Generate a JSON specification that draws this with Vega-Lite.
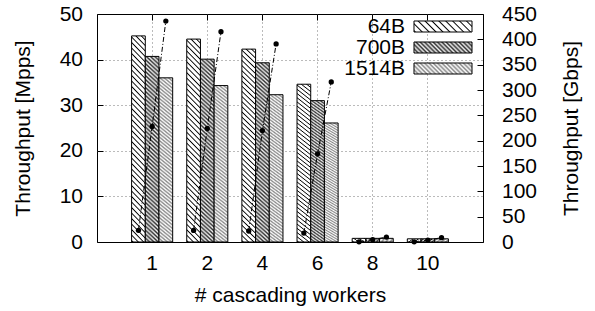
{
  "$schema": "https://vega.github.io/schema/vega-lite/v6.json",
  "width": 386,
  "height": 228,
  "autosize": {"type": "none"},
  "padding": {"left": 97, "top": 14, "right": 112, "bottom": 69},
  "config": {
    "font": "Liberation Sans",
    "view": {"stroke": "black", "strokeWidth": 1},
    "axis": {
      "labelFont": "Liberation Sans", "labelFontSize": 21, "labelColor": "black",
      "titleFont": "Liberation Sans", "titleFontSize": 21, "titleFontWeight": "normal", "titleColor": "black",
      "domain": false, "tickColor": "black", "gridColor": "#777", "gridDash": [1, 3]
    },
    "legend": {
      "orient": "none", "legendX": 335.5, "title": null, "padding": 0,
      "labelAlign": "right", "labelOffset": -48.5,
      "symbolSize": 134.6, "symbolStrokeColor": "black", "symbolStrokeWidth": 1, "symbolOpacity": 1,
      "labelFont": "Liberation Sans", "labelFontSize": 21, "labelColor": "black"
    }
  },
  "data": {
    "values": [
      {"workers": "1", "size": "64B", "sizeBytes": 64, "mpps": 45.2, "gbps": 23.1},
      {"workers": "1", "size": "700B", "sizeBytes": 700, "mpps": 40.7, "gbps": 228},
      {"workers": "1", "size": "1514B", "sizeBytes": 1514, "mpps": 36.0, "gbps": 436},
      {"workers": "2", "size": "64B", "sizeBytes": 64, "mpps": 44.5, "gbps": 22.8},
      {"workers": "2", "size": "700B", "sizeBytes": 700, "mpps": 40.1, "gbps": 224},
      {"workers": "2", "size": "1514B", "sizeBytes": 1514, "mpps": 34.3, "gbps": 415},
      {"workers": "4", "size": "64B", "sizeBytes": 64, "mpps": 42.3, "gbps": 21.7},
      {"workers": "4", "size": "700B", "sizeBytes": 700, "mpps": 39.3, "gbps": 220},
      {"workers": "4", "size": "1514B", "sizeBytes": 1514, "mpps": 32.3, "gbps": 391},
      {"workers": "6", "size": "64B", "sizeBytes": 64, "mpps": 34.6, "gbps": 17.7},
      {"workers": "6", "size": "700B", "sizeBytes": 700, "mpps": 31.0, "gbps": 174},
      {"workers": "6", "size": "1514B", "sizeBytes": 1514, "mpps": 26.1, "gbps": 316},
      {"workers": "8", "size": "64B", "sizeBytes": 64, "mpps": 0.8, "gbps": 0.4},
      {"workers": "8", "size": "700B", "sizeBytes": 700, "mpps": 0.8, "gbps": 4.5},
      {"workers": "8", "size": "1514B", "sizeBytes": 1514, "mpps": 0.8, "gbps": 9.7},
      {"workers": "10", "size": "64B", "sizeBytes": 64, "mpps": 0.7, "gbps": 0.4},
      {"workers": "10", "size": "700B", "sizeBytes": 700, "mpps": 0.7, "gbps": 3.9},
      {"workers": "10", "size": "1514B", "sizeBytes": 1514, "mpps": 0.7, "gbps": 8.5}
    ]
  },
  "encoding": {
    "x": {
      "field": "workers", "type": "ordinal",
      "scale": {"domain": ["1", "2", "4", "6", "8", "10"], "paddingInner": 0.255, "paddingOuter": 0.6275},
      "axis": {"title": "# cascading workers", "labelAngle": 0, "ticks": false, "grid": true, "labelPadding": 10, "titlePadding": 11}
    },
    "xOffset": {
      "field": "size", "type": "nominal",
      "scale": {"domain": ["64B", "700B", "1514B"], "paddingInner": 0, "paddingOuter": 0}
    }
  },
  "layer": [
    {
      "encoding": {
        "y": {
          "field": "mpps", "type": "quantitative",
          "scale": {"domain": [0, 50]},
          "axis": {
            "orient": "left", "title": "Throughput [Mpps]", "values": [0, 10, 20, 30, 40, 50],
            "grid": true,
            "gridOpacity": {"condition": {"test": "datum.value === 0 || datum.value === 50", "value": 0}, "value": 1},
            "tickSize": -6, "labelPadding": 20.5, "titlePadding": 26
          }
        }
      },
      "layer": [
        {
          "transform": [{"filter": "datum.size === '64B'"}],
          "mark": {"type": "bar", "stroke": "black", "strokeWidth": 1,
            "fill": {"gradient": "linear", "x1": 1, "y1": 0, "x2": 0.9273, "y2": 1.063, "stops": [
              {"offset": 0, "color": "#fff"}, {"offset": 0.013, "color": "#fff"}, {"offset": 0.019, "color": "#000"},
              {"offset": 0.025, "color": "#fff"}, {"offset": 0.038, "color": "#fff"}, {"offset": 0.044, "color": "#000"},
              {"offset": 0.05, "color": "#fff"}, {"offset": 0.063, "color": "#fff"}, {"offset": 0.069, "color": "#000"},
              {"offset": 0.075, "color": "#fff"}, {"offset": 0.088, "color": "#fff"}, {"offset": 0.094, "color": "#000"},
              {"offset": 0.1, "color": "#fff"}, {"offset": 0.113, "color": "#fff"}, {"offset": 0.119, "color": "#000"},
              {"offset": 0.125, "color": "#fff"}, {"offset": 0.138, "color": "#fff"}, {"offset": 0.144, "color": "#000"},
              {"offset": 0.15, "color": "#fff"}, {"offset": 0.163, "color": "#fff"}, {"offset": 0.169, "color": "#000"},
              {"offset": 0.175, "color": "#fff"}, {"offset": 0.188, "color": "#fff"}, {"offset": 0.194, "color": "#000"},
              {"offset": 0.2, "color": "#fff"}, {"offset": 0.213, "color": "#fff"}, {"offset": 0.219, "color": "#000"},
              {"offset": 0.225, "color": "#fff"}, {"offset": 0.238, "color": "#fff"}, {"offset": 0.244, "color": "#000"},
              {"offset": 0.25, "color": "#fff"}, {"offset": 0.263, "color": "#fff"}, {"offset": 0.269, "color": "#000"},
              {"offset": 0.275, "color": "#fff"}, {"offset": 0.288, "color": "#fff"}, {"offset": 0.294, "color": "#000"},
              {"offset": 0.3, "color": "#fff"}, {"offset": 0.313, "color": "#fff"}, {"offset": 0.319, "color": "#000"},
              {"offset": 0.325, "color": "#fff"}, {"offset": 0.338, "color": "#fff"}, {"offset": 0.344, "color": "#000"},
              {"offset": 0.35, "color": "#fff"}, {"offset": 0.363, "color": "#fff"}, {"offset": 0.369, "color": "#000"},
              {"offset": 0.375, "color": "#fff"}, {"offset": 0.388, "color": "#fff"}, {"offset": 0.394, "color": "#000"},
              {"offset": 0.4, "color": "#fff"}, {"offset": 0.413, "color": "#fff"}, {"offset": 0.419, "color": "#000"},
              {"offset": 0.425, "color": "#fff"}, {"offset": 0.438, "color": "#fff"}, {"offset": 0.444, "color": "#000"},
              {"offset": 0.45, "color": "#fff"}, {"offset": 0.463, "color": "#fff"}, {"offset": 0.469, "color": "#000"},
              {"offset": 0.475, "color": "#fff"}, {"offset": 0.488, "color": "#fff"}, {"offset": 0.494, "color": "#000"},
              {"offset": 0.5, "color": "#fff"}, {"offset": 0.513, "color": "#fff"}, {"offset": 0.519, "color": "#000"},
              {"offset": 0.525, "color": "#fff"}, {"offset": 0.538, "color": "#fff"}, {"offset": 0.544, "color": "#000"},
              {"offset": 0.55, "color": "#fff"}, {"offset": 0.563, "color": "#fff"}, {"offset": 0.569, "color": "#000"},
              {"offset": 0.575, "color": "#fff"}, {"offset": 0.588, "color": "#fff"}, {"offset": 0.594, "color": "#000"},
              {"offset": 0.6, "color": "#fff"}, {"offset": 0.613, "color": "#fff"}, {"offset": 0.619, "color": "#000"},
              {"offset": 0.625, "color": "#fff"}, {"offset": 0.638, "color": "#fff"}, {"offset": 0.644, "color": "#000"},
              {"offset": 0.65, "color": "#fff"}, {"offset": 0.663, "color": "#fff"}, {"offset": 0.669, "color": "#000"},
              {"offset": 0.675, "color": "#fff"}, {"offset": 0.688, "color": "#fff"}, {"offset": 0.694, "color": "#000"},
              {"offset": 0.7, "color": "#fff"}, {"offset": 0.713, "color": "#fff"}, {"offset": 0.719, "color": "#000"},
              {"offset": 0.725, "color": "#fff"}, {"offset": 0.738, "color": "#fff"}, {"offset": 0.744, "color": "#000"},
              {"offset": 0.75, "color": "#fff"}, {"offset": 0.763, "color": "#fff"}, {"offset": 0.769, "color": "#000"},
              {"offset": 0.775, "color": "#fff"}, {"offset": 0.788, "color": "#fff"}, {"offset": 0.794, "color": "#000"},
              {"offset": 0.8, "color": "#fff"}, {"offset": 0.813, "color": "#fff"}, {"offset": 0.819, "color": "#000"},
              {"offset": 0.825, "color": "#fff"}, {"offset": 0.838, "color": "#fff"}, {"offset": 0.844, "color": "#000"},
              {"offset": 0.85, "color": "#fff"}, {"offset": 0.863, "color": "#fff"}, {"offset": 0.869, "color": "#000"},
              {"offset": 0.875, "color": "#fff"}, {"offset": 0.888, "color": "#fff"}, {"offset": 0.894, "color": "#000"},
              {"offset": 0.9, "color": "#fff"}, {"offset": 0.913, "color": "#fff"}, {"offset": 0.919, "color": "#000"},
              {"offset": 0.925, "color": "#fff"}, {"offset": 0.938, "color": "#fff"}, {"offset": 0.944, "color": "#000"},
              {"offset": 0.95, "color": "#fff"}, {"offset": 0.963, "color": "#fff"}, {"offset": 0.969, "color": "#000"},
              {"offset": 0.975, "color": "#fff"}, {"offset": 0.988, "color": "#fff"}, {"offset": 0.994, "color": "#000"},
              {"offset": 1, "color": "#fff"}
            ]}
          }
        },
        {
          "transform": [{"filter": "datum.size === '700B'"}],
          "mark": {"type": "bar", "stroke": "black", "strokeWidth": 1,
            "fill": {"gradient": "linear", "x1": 1, "y1": 0, "x2": 0.9273, "y2": 1.063, "stops": [
              {"offset": 0, "color": "#333"}, {"offset": 0.01, "color": "#eee"}, {"offset": 0.02, "color": "#333"}, {"offset": 0.03, "color": "#eee"},
              {"offset": 0.04, "color": "#333"}, {"offset": 0.05, "color": "#eee"}, {"offset": 0.06, "color": "#333"}, {"offset": 0.07, "color": "#eee"},
              {"offset": 0.08, "color": "#333"}, {"offset": 0.09, "color": "#eee"}, {"offset": 0.1, "color": "#333"}, {"offset": 0.11, "color": "#eee"},
              {"offset": 0.12, "color": "#333"}, {"offset": 0.13, "color": "#eee"}, {"offset": 0.14, "color": "#333"}, {"offset": 0.15, "color": "#eee"},
              {"offset": 0.16, "color": "#333"}, {"offset": 0.17, "color": "#eee"}, {"offset": 0.18, "color": "#333"}, {"offset": 0.19, "color": "#eee"},
              {"offset": 0.2, "color": "#333"}, {"offset": 0.21, "color": "#eee"}, {"offset": 0.22, "color": "#333"}, {"offset": 0.23, "color": "#eee"},
              {"offset": 0.24, "color": "#333"}, {"offset": 0.25, "color": "#eee"}, {"offset": 0.26, "color": "#333"}, {"offset": 0.27, "color": "#eee"},
              {"offset": 0.28, "color": "#333"}, {"offset": 0.29, "color": "#eee"}, {"offset": 0.3, "color": "#333"}, {"offset": 0.31, "color": "#eee"},
              {"offset": 0.32, "color": "#333"}, {"offset": 0.33, "color": "#eee"}, {"offset": 0.34, "color": "#333"}, {"offset": 0.35, "color": "#eee"},
              {"offset": 0.36, "color": "#333"}, {"offset": 0.37, "color": "#eee"}, {"offset": 0.38, "color": "#333"}, {"offset": 0.39, "color": "#eee"},
              {"offset": 0.4, "color": "#333"}, {"offset": 0.41, "color": "#eee"}, {"offset": 0.42, "color": "#333"}, {"offset": 0.43, "color": "#eee"},
              {"offset": 0.44, "color": "#333"}, {"offset": 0.45, "color": "#eee"}, {"offset": 0.46, "color": "#333"}, {"offset": 0.47, "color": "#eee"},
              {"offset": 0.48, "color": "#333"}, {"offset": 0.49, "color": "#eee"}, {"offset": 0.5, "color": "#333"}, {"offset": 0.51, "color": "#eee"},
              {"offset": 0.52, "color": "#333"}, {"offset": 0.53, "color": "#eee"}, {"offset": 0.54, "color": "#333"}, {"offset": 0.55, "color": "#eee"},
              {"offset": 0.56, "color": "#333"}, {"offset": 0.57, "color": "#eee"}, {"offset": 0.58, "color": "#333"}, {"offset": 0.59, "color": "#eee"},
              {"offset": 0.6, "color": "#333"}, {"offset": 0.61, "color": "#eee"}, {"offset": 0.62, "color": "#333"}, {"offset": 0.63, "color": "#eee"},
              {"offset": 0.64, "color": "#333"}, {"offset": 0.65, "color": "#eee"}, {"offset": 0.66, "color": "#333"}, {"offset": 0.67, "color": "#eee"},
              {"offset": 0.68, "color": "#333"}, {"offset": 0.69, "color": "#eee"}, {"offset": 0.7, "color": "#333"}, {"offset": 0.71, "color": "#eee"},
              {"offset": 0.72, "color": "#333"}, {"offset": 0.73, "color": "#eee"}, {"offset": 0.74, "color": "#333"}, {"offset": 0.75, "color": "#eee"},
              {"offset": 0.76, "color": "#333"}, {"offset": 0.77, "color": "#eee"}, {"offset": 0.78, "color": "#333"}, {"offset": 0.79, "color": "#eee"},
              {"offset": 0.8, "color": "#333"}, {"offset": 0.81, "color": "#eee"}, {"offset": 0.82, "color": "#333"}, {"offset": 0.83, "color": "#eee"},
              {"offset": 0.84, "color": "#333"}, {"offset": 0.85, "color": "#eee"}, {"offset": 0.86, "color": "#333"}, {"offset": 0.87, "color": "#eee"},
              {"offset": 0.88, "color": "#333"}, {"offset": 0.89, "color": "#eee"}, {"offset": 0.9, "color": "#333"}, {"offset": 0.91, "color": "#eee"},
              {"offset": 0.92, "color": "#333"}, {"offset": 0.93, "color": "#eee"}, {"offset": 0.94, "color": "#333"}, {"offset": 0.95, "color": "#eee"},
              {"offset": 0.96, "color": "#333"}, {"offset": 0.97, "color": "#eee"}, {"offset": 0.98, "color": "#333"}, {"offset": 0.99, "color": "#eee"},
              {"offset": 1, "color": "#333"}
            ]}
          }
        },
        {
          "transform": [{"filter": "datum.size === '1514B'"}],
          "mark": {"type": "bar", "stroke": "black", "strokeWidth": 1,
            "fill": {"gradient": "linear", "x1": 1, "y1": 0, "x2": 0.9273, "y2": 1.063, "stops": [
              {"offset": 0, "color": "#888"}, {"offset": 0.01, "color": "#fff"}, {"offset": 0.02, "color": "#888"}, {"offset": 0.03, "color": "#fff"},
              {"offset": 0.04, "color": "#888"}, {"offset": 0.05, "color": "#fff"}, {"offset": 0.06, "color": "#888"}, {"offset": 0.07, "color": "#fff"},
              {"offset": 0.08, "color": "#888"}, {"offset": 0.09, "color": "#fff"}, {"offset": 0.1, "color": "#888"}, {"offset": 0.11, "color": "#fff"},
              {"offset": 0.12, "color": "#888"}, {"offset": 0.13, "color": "#fff"}, {"offset": 0.14, "color": "#888"}, {"offset": 0.15, "color": "#fff"},
              {"offset": 0.16, "color": "#888"}, {"offset": 0.17, "color": "#fff"}, {"offset": 0.18, "color": "#888"}, {"offset": 0.19, "color": "#fff"},
              {"offset": 0.2, "color": "#888"}, {"offset": 0.21, "color": "#fff"}, {"offset": 0.22, "color": "#888"}, {"offset": 0.23, "color": "#fff"},
              {"offset": 0.24, "color": "#888"}, {"offset": 0.25, "color": "#fff"}, {"offset": 0.26, "color": "#888"}, {"offset": 0.27, "color": "#fff"},
              {"offset": 0.28, "color": "#888"}, {"offset": 0.29, "color": "#fff"}, {"offset": 0.3, "color": "#888"}, {"offset": 0.31, "color": "#fff"},
              {"offset": 0.32, "color": "#888"}, {"offset": 0.33, "color": "#fff"}, {"offset": 0.34, "color": "#888"}, {"offset": 0.35, "color": "#fff"},
              {"offset": 0.36, "color": "#888"}, {"offset": 0.37, "color": "#fff"}, {"offset": 0.38, "color": "#888"}, {"offset": 0.39, "color": "#fff"},
              {"offset": 0.4, "color": "#888"}, {"offset": 0.41, "color": "#fff"}, {"offset": 0.42, "color": "#888"}, {"offset": 0.43, "color": "#fff"},
              {"offset": 0.44, "color": "#888"}, {"offset": 0.45, "color": "#fff"}, {"offset": 0.46, "color": "#888"}, {"offset": 0.47, "color": "#fff"},
              {"offset": 0.48, "color": "#888"}, {"offset": 0.49, "color": "#fff"}, {"offset": 0.5, "color": "#888"}, {"offset": 0.51, "color": "#fff"},
              {"offset": 0.52, "color": "#888"}, {"offset": 0.53, "color": "#fff"}, {"offset": 0.54, "color": "#888"}, {"offset": 0.55, "color": "#fff"},
              {"offset": 0.56, "color": "#888"}, {"offset": 0.57, "color": "#fff"}, {"offset": 0.58, "color": "#888"}, {"offset": 0.59, "color": "#fff"},
              {"offset": 0.6, "color": "#888"}, {"offset": 0.61, "color": "#fff"}, {"offset": 0.62, "color": "#888"}, {"offset": 0.63, "color": "#fff"},
              {"offset": 0.64, "color": "#888"}, {"offset": 0.65, "color": "#fff"}, {"offset": 0.66, "color": "#888"}, {"offset": 0.67, "color": "#fff"},
              {"offset": 0.68, "color": "#888"}, {"offset": 0.69, "color": "#fff"}, {"offset": 0.7, "color": "#888"}, {"offset": 0.71, "color": "#fff"},
              {"offset": 0.72, "color": "#888"}, {"offset": 0.73, "color": "#fff"}, {"offset": 0.74, "color": "#888"}, {"offset": 0.75, "color": "#fff"},
              {"offset": 0.76, "color": "#888"}, {"offset": 0.77, "color": "#fff"}, {"offset": 0.78, "color": "#888"}, {"offset": 0.79, "color": "#fff"},
              {"offset": 0.8, "color": "#888"}, {"offset": 0.81, "color": "#fff"}, {"offset": 0.82, "color": "#888"}, {"offset": 0.83, "color": "#fff"},
              {"offset": 0.84, "color": "#888"}, {"offset": 0.85, "color": "#fff"}, {"offset": 0.86, "color": "#888"}, {"offset": 0.87, "color": "#fff"},
              {"offset": 0.88, "color": "#888"}, {"offset": 0.89, "color": "#fff"}, {"offset": 0.9, "color": "#888"}, {"offset": 0.91, "color": "#fff"},
              {"offset": 0.92, "color": "#888"}, {"offset": 0.93, "color": "#fff"}, {"offset": 0.94, "color": "#888"}, {"offset": 0.95, "color": "#fff"},
              {"offset": 0.96, "color": "#888"}, {"offset": 0.97, "color": "#fff"}, {"offset": 0.98, "color": "#888"}, {"offset": 0.99, "color": "#fff"},
              {"offset": 1, "color": "#888"}
            ]}
          }
        },
        {
          "transform": [{"filter": "datum.size === '64B'"}],
          "mark": {"type": "point", "filled": true, "opacity": 0, "stroke": "black", "strokeWidth": 1,
            "fill": {"gradient": "linear", "x1": 1, "y1": 0, "x2": -0.149, "y2": 0.218, "stops": [
              {"offset": 0, "color": "#fff"}, {"offset": 0.06, "color": "#fff"}, {"offset": 0.08, "color": "#000"},
              {"offset": 0.1, "color": "#fff"}, {"offset": 0.16, "color": "#fff"}, {"offset": 0.18, "color": "#000"},
              {"offset": 0.2, "color": "#fff"}, {"offset": 0.26, "color": "#fff"}, {"offset": 0.28, "color": "#000"},
              {"offset": 0.3, "color": "#fff"}, {"offset": 0.36, "color": "#fff"}, {"offset": 0.38, "color": "#000"},
              {"offset": 0.4, "color": "#fff"}, {"offset": 0.46, "color": "#fff"}, {"offset": 0.48, "color": "#000"},
              {"offset": 0.5, "color": "#fff"}, {"offset": 0.56, "color": "#fff"}, {"offset": 0.58, "color": "#000"},
              {"offset": 0.6, "color": "#fff"}, {"offset": 0.66, "color": "#fff"}, {"offset": 0.68, "color": "#000"},
              {"offset": 0.7, "color": "#fff"}, {"offset": 0.76, "color": "#fff"}, {"offset": 0.78, "color": "#000"},
              {"offset": 0.8, "color": "#fff"}, {"offset": 0.86, "color": "#fff"}, {"offset": 0.88, "color": "#000"},
              {"offset": 0.9, "color": "#fff"}, {"offset": 0.96, "color": "#fff"}, {"offset": 0.98, "color": "#000"},
              {"offset": 1, "color": "#fff"}
            ]}
          },
          "encoding": {
            "shape": {"field": "size", "type": "nominal",
              "scale": {"domain": ["64B"], "range": ["M-5,-0.95H5V0.95H-5Z"]},
              "legend": {"legendY": 2, "encoding": {"symbols": {"stroke": {"value": "black"}, "strokeWidth": {"value": 1}}}}}
          }
        },
        {
          "transform": [{"filter": "datum.size === '700B'"}],
          "mark": {"type": "point", "filled": true, "opacity": 0, "stroke": "black", "strokeWidth": 1,
            "fill": {"gradient": "linear", "x1": 1, "y1": 0, "x2": -0.149, "y2": 0.218, "stops": [
              {"offset": 0, "color": "#333"}, {"offset": 0.03125, "color": "#eee"}, {"offset": 0.0625, "color": "#333"}, {"offset": 0.09375, "color": "#eee"},
              {"offset": 0.125, "color": "#333"}, {"offset": 0.15625, "color": "#eee"}, {"offset": 0.1875, "color": "#333"}, {"offset": 0.21875, "color": "#eee"},
              {"offset": 0.25, "color": "#333"}, {"offset": 0.28125, "color": "#eee"}, {"offset": 0.3125, "color": "#333"}, {"offset": 0.34375, "color": "#eee"},
              {"offset": 0.375, "color": "#333"}, {"offset": 0.40625, "color": "#eee"}, {"offset": 0.4375, "color": "#333"}, {"offset": 0.46875, "color": "#eee"},
              {"offset": 0.5, "color": "#333"}, {"offset": 0.53125, "color": "#eee"}, {"offset": 0.5625, "color": "#333"}, {"offset": 0.59375, "color": "#eee"},
              {"offset": 0.625, "color": "#333"}, {"offset": 0.65625, "color": "#eee"}, {"offset": 0.6875, "color": "#333"}, {"offset": 0.71875, "color": "#eee"},
              {"offset": 0.75, "color": "#333"}, {"offset": 0.78125, "color": "#eee"}, {"offset": 0.8125, "color": "#333"}, {"offset": 0.84375, "color": "#eee"},
              {"offset": 0.875, "color": "#333"}, {"offset": 0.90625, "color": "#eee"}, {"offset": 0.9375, "color": "#333"}, {"offset": 0.96875, "color": "#eee"},
              {"offset": 1, "color": "#333"}
            ]}
          },
          "encoding": {
            "shape": {"field": "size", "type": "nominal",
              "scale": {"domain": ["700B"], "range": ["M-5,-0.95H5V0.95H-5Z"]},
              "legend": {"legendY": 23, "encoding": {"symbols": {"stroke": {"value": "black"}, "strokeWidth": {"value": 1}}}}}
          }
        },
        {
          "transform": [{"filter": "datum.size === '1514B'"}],
          "mark": {"type": "point", "filled": true, "opacity": 0, "stroke": "black", "strokeWidth": 1,
            "fill": {"gradient": "linear", "x1": 1, "y1": 0, "x2": -0.149, "y2": 0.218, "stops": [
              {"offset": 0, "color": "#888"}, {"offset": 0.03125, "color": "#fff"}, {"offset": 0.0625, "color": "#888"}, {"offset": 0.09375, "color": "#fff"},
              {"offset": 0.125, "color": "#888"}, {"offset": 0.15625, "color": "#fff"}, {"offset": 0.1875, "color": "#888"}, {"offset": 0.21875, "color": "#fff"},
              {"offset": 0.25, "color": "#888"}, {"offset": 0.28125, "color": "#fff"}, {"offset": 0.3125, "color": "#888"}, {"offset": 0.34375, "color": "#fff"},
              {"offset": 0.375, "color": "#888"}, {"offset": 0.40625, "color": "#fff"}, {"offset": 0.4375, "color": "#888"}, {"offset": 0.46875, "color": "#fff"},
              {"offset": 0.5, "color": "#888"}, {"offset": 0.53125, "color": "#fff"}, {"offset": 0.5625, "color": "#888"}, {"offset": 0.59375, "color": "#fff"},
              {"offset": 0.625, "color": "#888"}, {"offset": 0.65625, "color": "#fff"}, {"offset": 0.6875, "color": "#888"}, {"offset": 0.71875, "color": "#fff"},
              {"offset": 0.75, "color": "#888"}, {"offset": 0.78125, "color": "#fff"}, {"offset": 0.8125, "color": "#888"}, {"offset": 0.84375, "color": "#fff"},
              {"offset": 0.875, "color": "#888"}, {"offset": 0.90625, "color": "#fff"}, {"offset": 0.9375, "color": "#888"}, {"offset": 0.96875, "color": "#fff"},
              {"offset": 1, "color": "#888"}
            ]}
          },
          "encoding": {
            "shape": {"field": "size", "type": "nominal",
              "scale": {"domain": ["1514B"], "range": ["M-5,-0.95H5V0.95H-5Z"]},
              "legend": {"legendY": 44, "encoding": {"symbols": {"stroke": {"value": "black"}, "strokeWidth": {"value": 1}}}}}
          }
        }
      ],
      "resolve": {"scale": {"shape": "independent"}, "legend": {"shape": "independent"}}
    },
    {
      "encoding": {
        "x": {
          "field": "workers", "type": "ordinal",
          "scale": {"domain": ["1", "2", "4", "6", "8", "10"], "paddingInner": 0.255, "paddingOuter": 0.6275},
          "axis": {"orient": "top", "title": null, "labels": false, "ticks": true, "tickSize": -6, "grid": false}
        },
        "y": {
          "field": "gbps", "type": "quantitative",
          "scale": {"domain": [0, 450]},
          "axis": {
            "orient": "right", "title": "Throughput [Gbps]", "values": [0, 50, 100, 150, 200, 250, 300, 350, 400, 450],
            "grid": false, "tickSize": -6, "labelPadding": 24.5, "titlePadding": 24,
            "titleAngle": 270, "titleBaseline": "top"
          }
        }
      },
      "layer": [
        {
          "mark": {"type": "line", "color": "black", "strokeWidth": 1, "strokeDash": [5, 2, 1, 2]},
          "encoding": {
            "detail": {"field": "workers", "type": "nominal"},
            "order": {"field": "sizeBytes", "type": "quantitative"}
          }
        },
        {
          "mark": {"type": "point", "filled": true, "color": "black", "size": 28, "opacity": 1}
        }
      ]
    }
  ],
  "resolve": {"scale": {"y": "independent"}, "axis": {"x": "independent"}}
}
